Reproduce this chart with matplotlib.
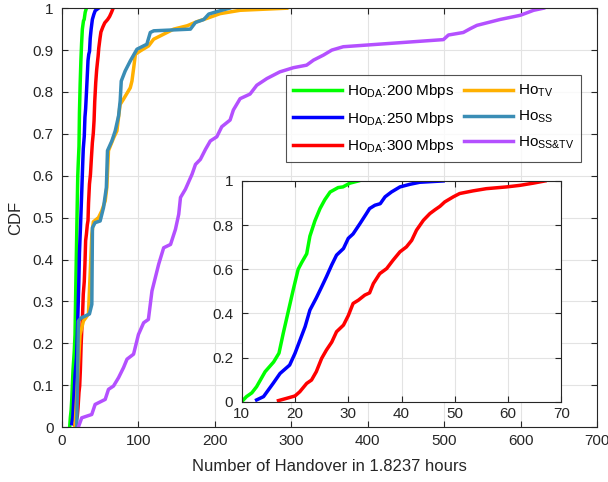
import numpy as np
import matplotlib
matplotlib.use('Agg')
import matplotlib.pyplot as plt
from matplotlib.mathtext import MathTextParser

plt.rcParams['font.family'] = ['Liberation Sans', 'DejaVu Sans']
plt.rcParams['mathtext.default'] = 'regular'

# ---- data ----
da200_x = [10, 10.9, 11.9, 12.8, 14.4, 16, 17, 17.8, 18.75, 19.7, 20.6, 21.25, 22.2, 22.8,
           23.75, 24.7, 25.6, 26.6, 28.1, 29, 30.3, 31.9]
da200_y = [0, 0.023, 0.04, 0.068, 0.136, 0.18, 0.22, 0.31, 0.41, 0.51, 0.6, 0.63, 0.67, 0.75,
           0.82, 0.875, 0.915, 0.95, 0.97, 0.973, 0.99, 1.0]

da250_x = [12.8, 14.1, 15.9, 17.2, 19, 20, 21.9, 22.8, 24, 25, 25.9, 26.9, 27.8, 29.1, 30,
           30.9, 32.2, 33.4, 34, 35, 36, 36.9, 38.1, 39.7, 41.6, 43.4, 47.8]
da250_y = [0.008, 0.023, 0.083, 0.128, 0.166, 0.219, 0.34, 0.415, 0.47, 0.52, 0.566, 0.62,
           0.664, 0.694, 0.74, 0.76, 0.807, 0.852, 0.875, 0.89, 0.897, 0.928, 0.95, 0.973,
           0.985, 0.994, 1.0]

da300_x = [16.9, 18.4, 20, 20.9, 22.2, 23.1, 24, 25, 25.9, 26.9, 27.8, 29.1, 30, 30.9, 31.9,
           33.1, 34, 34.7, 35.9, 37.2, 38.4, 39.7, 40.9, 41.9, 42.8, 44.1, 45.3, 46.3, 47.2,
           48.1, 49.7, 50.9, 53.4, 55.9, 59.7, 62.2, 64.7, 66.9]
da300_y = [0.005, 0.015, 0.026, 0.045, 0.083, 0.098, 0.136, 0.196, 0.234, 0.27, 0.317, 0.347,
           0.39, 0.445, 0.46, 0.483, 0.493, 0.535, 0.58, 0.603, 0.641, 0.679, 0.701, 0.731,
           0.777, 0.822, 0.852, 0.87, 0.885, 0.905, 0.928, 0.943, 0.955, 0.965, 0.973, 0.98,
           0.99, 1.0]

tv_x = [17, 23.6, 28, 34.6, 39, 41, 47.7, 52, 56.5, 58.6, 60.8, 67.4, 71.8, 76, 80.5, 89.3,
        91.5, 93.8, 96, 102.4, 113.3, 119.9, 128.7, 146, 163.7, 176.8, 190, 206.8, 233, 294]
tv_y = [0, 0.22, 0.253, 0.27, 0.46, 0.49, 0.5, 0.516, 0.54, 0.572, 0.66, 0.69, 0.707, 0.77,
        0.783, 0.81, 0.826, 0.858, 0.89, 0.898, 0.91, 0.926, 0.934, 0.95, 0.958, 0.968,
        0.976, 0.987, 0.995, 1.0]

ss_x = [19.3, 21.4, 24.5, 35.9, 39, 39.8, 43.3, 49.9, 54.3, 58, 59.5, 65.2, 69.6, 74, 76.1,
        77.5, 82.6, 89.3, 98, 111, 115.5, 120, 168, 174.6, 185.5, 192, 203, 219]
ss_y = [0, 0.253, 0.26, 0.27, 0.293, 0.476, 0.488, 0.492, 0.524, 0.572, 0.66, 0.683, 0.707,
        0.743, 0.779, 0.826, 0.85, 0.874, 0.902, 0.914, 0.942, 0.946, 0.95, 0.966, 0.973,
        0.986, 0.992, 1.0]

sstv_x = [21.4, 25.8, 38.9, 43.3, 56.5, 60.8, 67.4, 74, 80.5, 85, 93.6, 100, 106.8, 113,
          117.7, 126.5, 133, 142, 148.4, 152.7, 155, 161.5, 170.2, 174.6, 181, 187.7, 194,
          202.5, 209, 219.9, 224.2, 233, 246, 254.8, 268, 285, 302.8, 320, 329, 342, 353,
          368, 499, 505.6, 525, 534, 542.8, 573, 599.5, 617, 630]
sstv_y = [0, 0.022, 0.03, 0.054, 0.066, 0.09, 0.098, 0.118, 0.142, 0.162, 0.174, 0.221,
          0.249, 0.257, 0.325, 0.389, 0.428, 0.436, 0.472, 0.508, 0.548, 0.568, 0.604, 0.627,
          0.639, 0.663, 0.683, 0.693, 0.717, 0.733, 0.757, 0.784, 0.795, 0.816, 0.832, 0.848,
          0.858, 0.864, 0.876, 0.888, 0.9, 0.908, 0.925, 0.936, 0.942, 0.951, 0.959, 0.973,
          0.983, 0.995, 1.0]


def ok_math(s):
    try:
        MathTextParser('path').parse(s)
        return True
    except Exception:
        return False


sstv_lab = 'Ho$_{SS&TV}$'
if not ok_math(sstv_lab):
    sstv_lab = 'Ho$_{SS}$'

labels = ['Ho$_{DA}$:200 Mbps', 'Ho$_{DA}$:250 Mbps', 'Ho$_{DA}$:300 Mbps',
          'Ho$_{TV}$', 'Ho$_{SS}$', sstv_lab]
colors = ['#00FF00', '#0000FF', '#FF0000', '#FFB000', '#3A8DB5', '#B450FF']

dark = '#262626'
grid_c = '#E3E3E3'

fig = plt.figure(figsize=(6.08, 4.82), dpi=100)
ax = fig.add_axes([0.102, 0.114, 0.880, 0.869])

series = [(da200_x, da200_y), (da250_x, da250_y), (da300_x, da300_y),
          (tv_x, tv_y), (ss_x, ss_y), (sstv_x, sstv_y)]
lw = 2.5
for (xs, ys), c, lab in zip(series, colors, labels):
    ax.plot(xs, ys, color=c, lw=lw, label=lab)

ax.set_xlim(0, 700)
ax.set_ylim(0, 1)
ax.set_xticks(np.arange(0, 701, 100))
ax.set_yticks(np.arange(0, 1.01, 0.1))
ax.set_yticklabels(['0', '0.1', '0.2', '0.3', '0.4', '0.5', '0.6', '0.7', '0.8', '0.9', '1'])
ax.grid(True, color=grid_c, lw=0.8)
ax.set_axisbelow(True)
ax.tick_params(direction='in', top=True, right=True, colors=dark, labelsize=11, length=4)
ax.tick_params(axis='y', pad=6)
ax.tick_params(axis='x', pad=5)
for s in ax.spines.values():
    s.set_color(dark)
    s.set_linewidth(0.8)
ax.set_xlabel('Number of Handover in 1.8237 hours', fontsize=12, color=dark, labelpad=8)
ax.set_ylabel('CDF', fontsize=12, color=dark, labelpad=7)

leg = ax.legend(ncol=2, loc='upper right', bbox_to_anchor=(0.970, 0.840), fontsize=11,
                frameon=True, fancybox=False, edgecolor=dark, handlelength=3.2,
                handletextpad=0.3, columnspacing=0.65, borderpad=0.45, labelspacing=0.62,
                borderaxespad=0)
leg.get_frame().set_linewidth(0.8)

# ---- inset ----
ins = fig.add_axes([0.3975, 0.1666, 0.526, 0.458])
for (xs, ys), c in zip(series[:3], colors[:3]):
    ins.plot(xs, ys, color=c, lw=lw)
ins.set_xlim(10, 70)
ins.set_ylim(0, 1)
ins.set_xticks(np.arange(10, 71, 10))
ins.set_yticks([0, 0.2, 0.4, 0.6, 0.8, 1])
ins.set_yticklabels(['0', '0.2', '0.4', '0.6', '0.8', '1'])
ins.grid(True, color=grid_c, lw=0.8)
ins.set_axisbelow(True)
ins.tick_params(direction='in', top=True, right=True, colors=dark, labelsize=11, length=4)
ins.tick_params(axis='y', pad=6)
for s in ins.spines.values():
    s.set_color(dark)
    s.set_linewidth(0.8)

fig.savefig('out.png', dpi=100)
